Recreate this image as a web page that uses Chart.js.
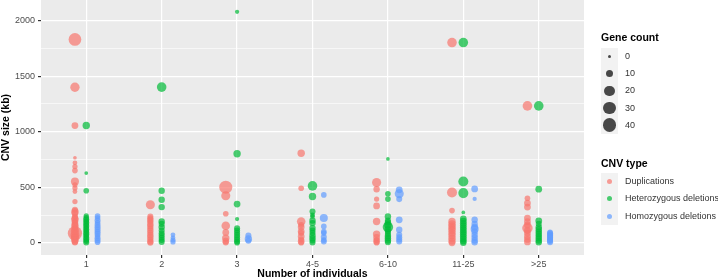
<!DOCTYPE html>
<html lang="en">
<head>
    <meta charset="UTF-8">
    <title>CNV size by number of individuals</title>
    <style>
        body { margin: 0; background: #ffffff; font-family: "Liberation Sans", Arial, sans-serif; }
        #wrap { position: relative; width: 718px; height: 280px; overflow: hidden; }
        .lg-title { position: absolute; left: 601px; font-size: 10.5px; font-weight: bold; color: #000; line-height: 12px; }
        .lg-box { position: absolute; left: 601px; width: 17px; background: #f2f2f2; }
        .lg-dot { position: absolute; border-radius: 50%; }
        .lg-text { position: absolute; left: 625px; font-size: 9px; color: #333; line-height: 11px; white-space: nowrap; }
    </style>
</head>
<body>
<div id="wrap">
    <canvas id="cnvChart" width="718" height="280"></canvas>
    <div id="legend"></div>
</div>

<script src="https://cdn.jsdelivr.net/npm/chart.js"></script>
<script>
    // categories on the x axis
    const categories = ['1', '2', '3', '4-5', '6-10', '11-25', '>25'];

    // [CNV size kb, gene count] per category
    const duplications = [
        [[1830, 33], [1400, 17], [1055, 8], [765, 1], [720, 3], [686, 4], [650, 5], [551, 12], [522, 4], [494, 4], [461, 3], [371, 4],
         [297, 6], [280, 10], [267, 8], [237, 6], [220, 8], [207, 10], [190, 6], [177, 8], [160, 8], [147, 10], [130, 6], [117, 10],
         [100, 12], [85, 42], [70, 15], [55, 10], [42, 12], [25, 10], [12, 8], [3, 6]],
        [[342, 16], [237, 6], [220, 6], [205, 7], [190, 6], [170, 7], [150, 7], [130, 6], [110, 7], [90, 6], [70, 7], [50, 7], [30, 6], [12, 7], [0, 6]],
        [[500, 35], [423, 16], [261, 5], [153, 14], [93, 8], [42, 10], [15, 8], [3, 6]],
        [[806, 10], [491, 5], [192, 14], [160, 6], [141, 8], [102, 8], [87, 6], [57, 8], [30, 6], [12, 8], [0, 5]],
        [[542, 16], [482, 7], [393, 4], [332, 8], [192, 10], [78, 10], [48, 8], [25, 6], [12, 8], [0, 5]],
        [[1802, 18], [453, 20], [290, 5], [192, 10], [170, 10], [150, 10], [130, 10], [110, 10], [87, 10], [65, 10], [40, 10], [15, 10], [0, 8]],
        [[1232, 18], [401, 5], [357, 8], [321, 8], [222, 8], [190, 8], [160, 8], [132, 22], [110, 8], [87, 8], [57, 8], [30, 8], [8, 8]]
    ];

    const hetDeletions = [
        [[1055, 10], [627, 1], [468, 5], [243, 4], [225, 5], [210, 6], [195, 5], [180, 6], [165, 5], [150, 6], [135, 5], [120, 6],
         [105, 5], [90, 6], [75, 6], [60, 5], [45, 6], [30, 6], [15, 5], [3, 6]],
        [[1401, 18], [468, 7], [387, 7], [321, 7], [192, 7], [170, 6], [141, 7], [110, 6], [85, 6], [65, 6], [45, 6], [25, 6], [8, 6]],
        [[2079, 2], [801, 10], [348, 8], [213, 2], [130, 6], [110, 6], [90, 6], [70, 6], [50, 6], [30, 6], [12, 6], [0, 5]],
        [[512, 18], [416, 10], [282, 6], [250, 3], [237, 3], [200, 7], [177, 7], [132, 7], [110, 6], [90, 6], [65, 7], [40, 7], [20, 6], [3, 6]],
        [[755, 1], [441, 5], [393, 5], [237, 7], [200, 6], [183, 7], [160, 10], [141, 22], [120, 8], [100, 6], [80, 6], [60, 7], [40, 7], [20, 7], [5, 6]],
        [[1802, 18], [551, 20], [447, 20], [273, 1], [216, 8], [195, 8], [175, 8], [155, 8], [135, 8], [115, 8], [95, 8], [75, 8],
         [55, 8], [35, 8], [15, 8], [0, 7]],
        [[1232, 18], [482, 8], [198, 8], [170, 6], [140, 7], [120, 7], [100, 7], [80, 7], [60, 7], [40, 7], [20, 7], [5, 7]]
    ];

    const homDeletions = [
        [[240, 5], [222, 5], [200, 6], [180, 5], [160, 6], [140, 6], [120, 6], [100, 6], [80, 6], [60, 5], [40, 6], [20, 6], [5, 5]],
        [[72, 3], [45, 3], [25, 4], [8, 4]],
        [[65, 6], [35, 10], [18, 6]],
        [[431, 5], [222, 12], [147, 5], [100, 5], [87, 5], [51, 6], [25, 5], [12, 6]],
        [[477, 8], [441, 16], [393, 6], [207, 8], [117, 7], [72, 6], [50, 6], [30, 6], [12, 6]],
        [[485, 8], [395, 2], [207, 7], [170, 7], [140, 8], [123, 12], [100, 7], [70, 7], [45, 7], [20, 7], [5, 7]],
        [[95, 5], [85, 6], [75, 6], [65, 6], [55, 6], [45, 6], [35, 6], [25, 6], [15, 6], [5, 6]]
    ];

    const yTicks = [0, 250, 500, 750, 1000, 1250, 1500, 1750, 2000];
    const sizeBreaks = [0, 10, 20, 30, 40];
    const typeNames = ['Duplications', 'Heterozygous deletions', 'Homozygous deletions'];
    const typeColors = ['rgba(248,118,109,0.7)', 'rgba(0,186,56,0.7)', 'rgba(97,156,255,0.7)'];
    const dodge = [-0.15, 0, 0.15];

    function radius(genes) {
        return Math.sqrt(2.25 + 1.15 * genes);
    }

    function toPoints(groups, off) {
        return groups.flatMap((pts, i) => pts.map(p => ({ x: i + 1 + off, y: p[0], genes: p[1] })));
    }

    const allGroups = [duplications, hetDeletions, homDeletions];

    // grey panel like ggplot
    const panelBg = {
        id: 'panelBg',
        beforeDraw(chart) {
            const a = chart.chartArea;
            chart.ctx.save();
            chart.ctx.fillStyle = '#ebebeb';
            chart.ctx.fillRect(a.left, a.top, a.right - a.left, a.bottom - a.top);
            chart.ctx.restore();
        }
    };

    Chart.defaults.font.family = '"Liberation Sans", Arial, sans-serif';

    const ctx = document.getElementById('cnvChart').getContext('2d');
    new Chart(ctx, {
        type: 'scatter',
        data: {
            datasets: allGroups.map((g, k) => ({
                label: typeNames[k],
                data: toPoints(g, dodge[k]),
                backgroundColor: typeColors[k],
                borderWidth: 0,
                pointBorderWidth: 0,
                pointRadius: c => radius(c.raw.genes),
                pointHoverRadius: c => radius(c.raw.genes)
            }))
        },
        options: {
            responsive: false,
            animation: false,
            devicePixelRatio: 1,
            layout: { autoPadding: false, padding: { left: 0, right: 134, top: 0, bottom: 0 } },
            plugins: { legend: { display: false }, tooltip: { enabled: false } },
            scales: {
                x: {
                    type: 'linear',
                    min: 0.4,
                    max: 7.6,
                    afterBuildTicks: s => { s.ticks = categories.map((c, i) => ({ value: i + 1 })); },
                    afterFit: s => { s.height = 25; s.paddingLeft = 0; s.paddingRight = 0; },
                    border: { display: false },
                    grid: { color: '#ffffff', lineWidth: 1.2, tickColor: '#333333', tickLength: 3 },
                    ticks: {
                        callback: v => categories[v - 1],
                        font: { size: 9 },
                        color: '#4d4d4d',
                        padding: 1,
                        autoSkip: false,
                        maxRotation: 0
                    },
                    title: {
                        display: true,
                        text: 'Number of individuals',
                        font: { size: 10.5, weight: 'bold' },
                        color: '#000',
                        padding: { top: 0, bottom: 0 }
                    }
                },
                y: {
                    min: -110,
                    max: 2185,
                    afterBuildTicks: s => { s.ticks = yTicks.map(v => ({ value: v })); },
                    afterFit: s => { s.width = 41; s.paddingTop = 0; s.paddingBottom = 0; },
                    border: { display: false },
                    grid: {
                        color: '#ffffff',
                        lineWidth: c => (c.tick && c.tick.value % 500 === 0) ? 1.2 : 0.6,
                        tickColor: c => (c.tick && c.tick.value % 500 === 0) ? '#333333' : 'rgba(0,0,0,0)',
                        tickLength: 3
                    },
                    ticks: {
                        callback: v => (v % 500 === 0 ? String(v) : ''),
                        font: { size: 9 },
                        color: '#4d4d4d',
                        padding: 3
                    },
                    title: {
                        display: true,
                        text: 'CNV size (kb)',
                        font: { size: 10.5, weight: 'bold' },
                        color: '#000',
                        padding: { top: 0, bottom: 0 }
                    }
                }
            }
        },
        plugins: [panelBg]
    });

    // legends (size + colour), ggplot style
    const legend = document.getElementById('legend');
    function add(cls, css, text) {
        const d = document.createElement('div');
        d.className = cls;
        Object.assign(d.style, css);
        if (text) d.textContent = text;
        legend.appendChild(d);
    }
    const keyH = 17.3;

    add('lg-title', { top: '31px' }, 'Gene count');
    add('lg-box', { top: '47.5px', height: (keyH * sizeBreaks.length) + 'px' });
    sizeBreaks.forEach((b, i) => {
        const cy = 47.5 + keyH * (i + 0.5);
        const r = radius(b);
        add('lg-dot', { left: (609.5 - r) + 'px', top: (cy - r) + 'px', width: (2 * r) + 'px', height: (2 * r) + 'px', background: 'rgba(0,0,0,0.7)' });
        add('lg-text', { top: (cy - 5.5) + 'px' }, String(b));
    });

    add('lg-title', { top: '156.5px' }, 'CNV type');
    add('lg-box', { top: '173px', height: (keyH * typeNames.length) + 'px' });
    typeNames.forEach((n, i) => {
        const cy = 173 + keyH * (i + 0.5);
        const r = 2.5;
        add('lg-dot', { left: (609.5 - r) + 'px', top: (cy - r) + 'px', width: (2 * r) + 'px', height: (2 * r) + 'px', background: typeColors[i] });
        add('lg-text', { top: (cy - 5.5) + 'px' }, n);
    });
</script>
</body>
</html>
